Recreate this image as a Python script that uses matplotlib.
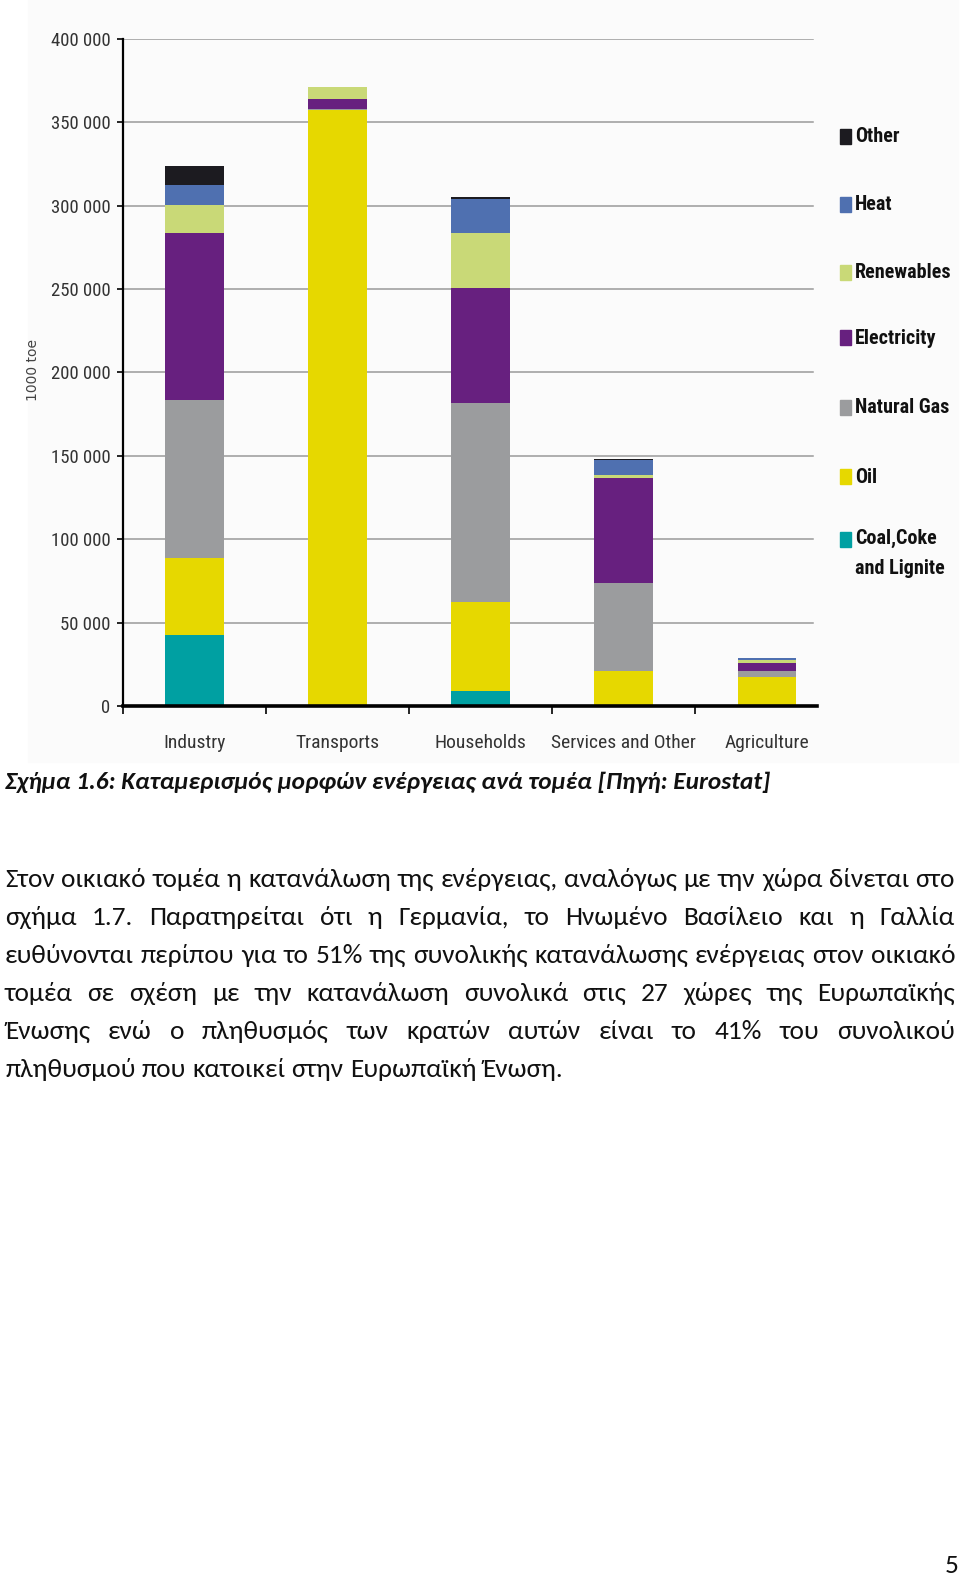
import numpy as np
import matplotlib.pyplot as plt
from matplotlib.patches import Rectangle
from matplotlib import font_manager

sectors = ["Industry", "Transports", "Households", "Services and Other", "Agriculture"]
fuels = ["Coal,Coke\nand Lignite", "Oil", "Natural Gas", "Electricity", "Renewables", "Heat", "Other"]
coal = [42500, 0, 9200, 0, 0]
oil = [46400, 357300, 53150, 21150, 17200]
gas = [94500, 700, 119500, 52550, 3950]
electricity = [100300, 6000, 68550, 62800, 4800]
renewables = [16600, 7000, 33400, 2000, 1600]
heat = [11950, 0, 20150, 9000, 1000]
other = [11600, 0, 1000, 800, 0]
colors = ["#00a0a2", "#e6d800", "#9b9c9e", "#67207f", "#c9d977", "#4f70b0", "#1c1b20"]
yticks = [0, 50000, 100000, 150000, 200000, 250000, 300000, 350000, 400000]

caption = "Σχήμα 1.6: Καταμερισμός μορφών ενέργειας ανά τομέα [Πηγή: Eurostat]"
body = [
    "Στον οικιακό τομέα η κατανάλωση της ενέργειας, αναλόγως με την χώρα δίνεται στο",
    "σχήμα 1.7. Παρατηρείται ότι η Γερμανία, το Ηνωμένο Βασίλειο και η Γαλλία",
    "ευθύνονται περίπου για το 51% της συνολικής κατανάλωσης ενέργειας στον οικιακό",
    "τομέα σε σχέση με την κατανάλωση συνολικά στις 27 χώρες της Ευρωπαϊκής",
    "Ένωσης ενώ ο πληθυσμός των κρατών αυτών είναι το 41% του συνολικού",
    "πληθυσμού που κατοικεί στην Ευρωπαϊκή Ένωση.",
]

installed = set(f.name for f in font_manager.fontManager.ttflist)


def pick(names):
    for n in names:
        if n in installed:
            return [n, "DejaVu Sans"]
    return ["DejaVu Sans"]


narrow = pick(["Roboto Condensed", "PT Sans Narrow", "Liberation Sans Narrow", "Open Sans Condensed"])
textfont = pick(["Carlito", "Open Sans", "Noto Sans"])

W, H = 960, 1575
fig = plt.figure(figsize=(W / 100, H / 100), dpi=100)
fig.patches.append(Rectangle((28 / W, 1 - 762 / H), 930 / W, 762 / H,
                             transform=fig.transFigure, color="#fbfbfb", zorder=-5))

ax = fig.add_axes([123 / W, 1 - 706 / H, 694 / W, (706 - 38.7) / H])
ax.set_facecolor("none")
x = np.arange(len(sectors))
series = [coal, oil, gas, electricity, renewables, heat, other]
bottom = np.zeros(len(sectors))
for vals, c in zip(series, colors):
    ax.bar(x, vals, width=0.41, bottom=bottom, color=c, zorder=3)
    bottom += np.array(vals)

ax.set_xlim(-0.5, 4.35)
ax.set_ylim(0, 400000)
ax.set_yticks(yticks)
ax.set_yticklabels([f"{v:,}".replace(",", " ") for v in yticks],
                   family=narrow, fontsize=13.5, color="#333333")
for v in yticks[1:]:
    ax.axhline(v, color="#9a9a9a", lw=1.1, zorder=1, xmax=0.994)
ax.set_xticks(x)
ax.set_xticklabels(sectors, family=narrow, fontsize=14, color="#333333")
ax.set_xticks(np.arange(-0.5, 4, 1), minor=True)
ax.tick_params(axis="x", which="major", length=0, pad=20)
ax.tick_params(axis="x", which="minor", length=6, width=1.2, color="black")
ax.tick_params(axis="y", length=4, width=1.2, pad=5)
for s in ["top", "right"]:
    ax.spines[s].set_visible(False)
ax.spines["left"].set_linewidth(1.6)
ax.spines["bottom"].set_linewidth(2.6)
ax.spines["bottom"].set_zorder(4)

fig.text(33 / W, 1 - 370 / H, "1000 toe", rotation=90, ha="center", va="center",
         fontsize=10, color="#444444", family="DejaVu Sans")

# legend, top entry first
leg_y = [137, 205, 273, 338, 408, 477, 540]
for lab, c, yy in zip(fuels[::-1], colors[::-1], leg_y):
    fig.patches.append(Rectangle((840 / W, 1 - (yy + 7) / H), 11 / W, 15 / H,
                                 transform=fig.transFigure, color=c))
    if "\n" in lab:
        fig.text(855 / W, 1 - (yy - 11) / H, lab, ha="left", va="top",
                 fontsize=14.5, fontweight="bold", family=narrow, color="#111111",
                 linespacing=1.7)
    else:
        fig.text(855 / W, 1 - yy / H, lab, ha="left", va="center",
                 fontsize=14.5, fontweight="bold", family=narrow, color="#111111")

renderer = fig.canvas.get_renderer()

cap = fig.text(5 / W, 1 - 789 / H, caption, ha="left", va="baseline", fontsize=16,
               fontweight="bold", fontstyle="italic", family=textfont, color="#111111")
cw = cap.get_window_extent(renderer).width
cap.set_fontsize(16 * 765 / cw)

# size body text so the first (naturally spaced) line fills the column
probe = fig.text(0, 0, body[0], fontsize=16, family=textfont)
bsize = 16 * 950 / probe.get_window_extent(renderer).width
probe.remove()

left, right = 5, 955
baselines = [887, 925, 963, 1001, 1039, 1077]
for i, (line, yb) in enumerate(zip(body, baselines)):
    words = line.split(" ")
    texts = [fig.text(0, 1 - yb / H, w, ha="left", va="baseline", fontsize=bsize,
                      family=textfont, color="#111111") for w in words]
    widths = [t.get_window_extent(renderer).width for t in texts]
    if i < len(body) - 1:
        gap = (right - left - sum(widths)) / (len(words) - 1)
    else:
        sp = fig.text(0, 0, "a a", fontsize=bsize, family=textfont)
        sa = fig.text(0, 0, "aa", fontsize=bsize, family=textfont)
        gap = sp.get_window_extent(renderer).width - sa.get_window_extent(renderer).width
        sp.remove()
        sa.remove()
    xx = left
    for t, wd in zip(texts, widths):
        t.set_x(xx / W)
        xx += wd + gap

fig.text(959 / W, 1 - 1573 / H, "5", ha="right", va="baseline", fontsize=bsize,
         family=textfont, color="#111111")

fig.savefig("out.png", dpi=100)
